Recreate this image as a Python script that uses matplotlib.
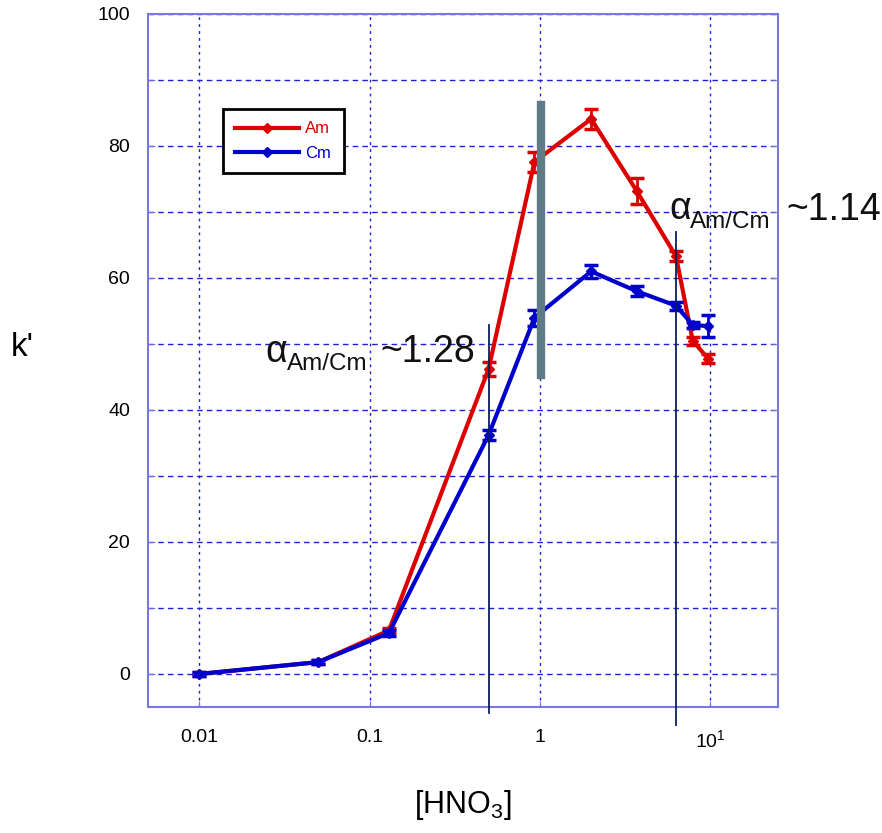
import matplotlib
matplotlib.use("Agg")
import matplotlib.pyplot as plt
from matplotlib.lines import Line2D
import numpy as np

plt.rcParams['font.family'] = ['Liberation Sans', 'DejaVu Sans']
plt.rcParams['mathtext.fontset'] = 'custom'
plt.rcParams['mathtext.rm'] = 'Liberation Sans'
plt.rcParams['mathtext.it'] = 'Liberation Sans'
plt.rcParams['mathtext.default'] = 'regular'

hno3 = [0.01, 0.05, 0.13, 0.5, 0.93, 2.0, 3.7, 6.3, 7.9, 9.7]
am = [0.0, 1.8, 6.6, 46.2, 77.6, 84.1, 73.2, 63.3, 50.5, 47.8]
am_err = [0.3, 0.3, 0.4, 1.0, 1.5, 1.5, 2.0, 0.8, 0.6, 0.7]
cm_x = [0.01, 0.05, 0.13, 0.5, 0.93, 2.0, 3.7, 6.3, 7.9, 9.7]
cm = [0.0, 1.8, 6.2, 36.2, 54.0, 61.0, 58.0, 55.8, 52.9, 52.7]
cm_err = [0.3, 0.3, 0.4, 0.7, 1.2, 1.0, 0.8, 0.6, 0.5, 1.7]

xticks = [0.01, 0.1, 1, 10]
xticklabels = ['0.01', '0.1', '1', '$10^1$']
yticks = [0, 20, 40, 60, 80, 100]

red = '#dd0000'
blue = '#0000cc'

fig = plt.figure(figsize=(8.82, 8.33), dpi=100)
ax = fig.add_axes([0.1678, 0.1513, 0.7142, 0.8319])
ax.set_xscale('log')
ax.set_xlim(0.005, 25)
ax.set_ylim(-5, 100)

spine_c = '#7878e0'
for s in ax.spines.values():
    s.set_color(spine_c)
    s.set_linewidth(1.5)

ax.set_xticks(xticks)
ax.set_xticklabels(xticklabels)
ax.xaxis.set_minor_locator(matplotlib.ticker.NullLocator())
ax.set_yticks(yticks)
ax.set_yticks(np.arange(0, 101, 10), minor=True)
ax.tick_params(axis='both', which='both', direction='in', color=spine_c, labelsize=14)
ax.tick_params(axis='y', which='both', right=True, length=5, pad=13)
ax.tick_params(axis='x', length=4, pad=16)
ax.grid(True, which='major', axis='x', color='#2020d0', linestyle=(0, (2, 3)), linewidth=1)
ax.grid(True, which='both', axis='y', color='#2020d0', linestyle=(0, (4, 3)), linewidth=1)
ax.set_axisbelow(True)

ax.errorbar(hno3, am, yerr=am_err, color=red, lw=3, marker='D', ms=5,
            capsize=5, capthick=2.5, elinewidth=2, zorder=3)
ax.errorbar(cm_x, cm, yerr=cm_err, color=blue, lw=3, marker='D', ms=5,
            capsize=5, capthick=2.5, elinewidth=2, zorder=4)

# annotation lines
ax.plot([0.5, 0.5], [52.9, -5.9], color='#0a1f5c', lw=1.3, clip_on=False, zorder=5)
ax.plot([6.28, 6.28], [67.0, -7.7], color='#0a1f5c', lw=1.3, clip_on=False, zorder=5)
ax.plot([1.01, 1.01], [86.2, 45.3], color='#5f7c86', lw=6, clip_on=False, zorder=5)

# alpha annotations
tc = '#111111'
ax.text(0.0244, 47.3, 'α', fontsize=27, color=tc, va='baseline', ha='left')
ax.text(0.0328, 46.1, 'Am/Cm', fontsize=17.5, color=tc, va='baseline', ha='left')
ax.text(0.115, 47.3, '~1.28', fontsize=27, color=tc, va='baseline', ha='left')
ax.text(5.79, 68.9, 'α', fontsize=27, color=tc, va='baseline', ha='left', clip_on=False)
ax.text(7.59, 67.6, 'Am/Cm', fontsize=17.5, color=tc, va='baseline', ha='left', clip_on=False)
ax.text(28.1, 68.8, '~1.14', fontsize=27, color=tc, va='baseline', ha='left', clip_on=False)

handles = [Line2D([], [], color=red, lw=3, marker='D', ms=5),
           Line2D([], [], color=blue, lw=3, marker='D', ms=5)]
leg = ax.legend(handles, ['Am', 'Cm'], loc='upper left', bbox_to_anchor=(0.119, 0.863),
                borderaxespad=0, fontsize=12, frameon=True, fancybox=False,
                edgecolor='black', handlelength=3.8, handletextpad=0.4,
                borderpad=0.75, labelspacing=0.55, framealpha=1)
leg.get_frame().set_linewidth(2)
for t, c in zip(leg.get_texts(), [red, blue]):
    t.set_color(c)

fig.text(0.025, 0.583, "k'", fontsize=24, ha='center', va='center')
fig.text(0.525, 0.034, r'[HNO$_3$]', fontsize=22, ha='center', va='center')

fig.savefig('out.png', dpi=100)
